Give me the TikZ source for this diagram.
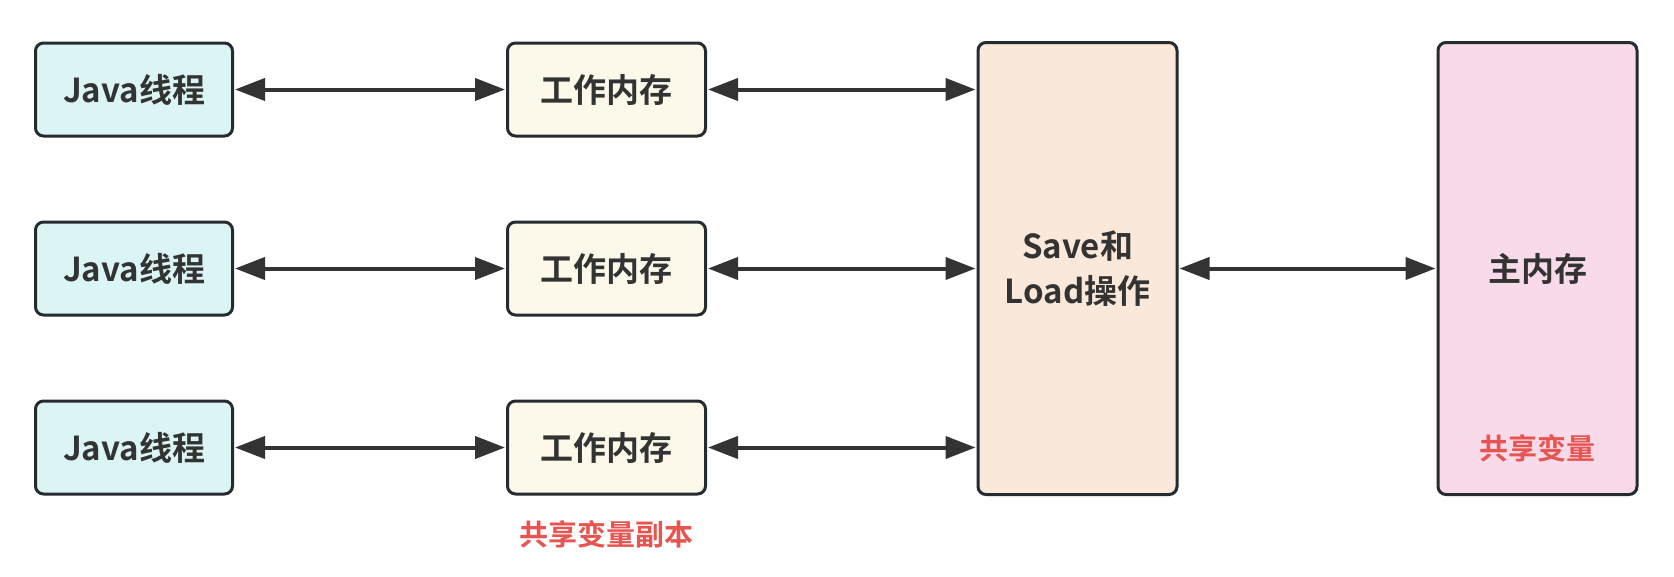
\documentclass[tikz,border=0pt]{standalone}
\usepackage{fontspec}
\setmainfont{Noto Sans CJK SC}[BoldFont={* Bold}]
\usetikzlibrary{arrows.meta}
\definecolor{bordc}{HTML}{262B30}
\definecolor{txtc}{HTML}{333333}
\definecolor{redc}{HTML}{E85450}
\definecolor{javafill}{HTML}{DBF4F4}
\definecolor{workfill}{HTML}{FCF8EA}
\definecolor{savefill}{HTML}{FAE8DA}
\definecolor{mainfill}{HTML}{F8DAEA}
\tikzset{
  box/.style={draw=bordc, line width=3pt, rounded corners=8pt, inner sep=0pt, text=txtc,
    font=\fontsize{33}{45}\selectfont\bfseries, align=center},
  javabox/.style={box, fill=javafill, minimum width=197pt, minimum height=93pt},
  workbox/.style={box, fill=workfill, minimum width=198pt, minimum height=93pt},
  bigbox/.style={box, minimum width=199pt, minimum height=452pt},
  link/.style={draw=txtc, line width=4pt, {Triangle[length=30pt,width=22pt]}-{Triangle[length=30pt,width=22pt]}, shorten <=1pt, shorten >=1pt},
  redlbl/.style={text=redc, font=\fontsize{29}{34}\selectfont\bfseries, inner sep=0pt}
}
\begin{document}
\begin{tikzpicture}[x=1pt,y=-1pt]
\useasboundingbox (0,0) rectangle (1674,576);
\node[javabox] (j1) at (134,89.5) {Java线程};
\node[javabox] (j2) at (134,268.5) {Java线程};
\node[javabox] (j3) at (134,447.5) {Java线程};
\node[workbox] (w1) at (606.5,89.5) {工作内存};
\node[workbox] (w2) at (606.5,268.5) {工作内存};
\node[workbox] (w3) at (606.5,447.5) {工作内存};
\node[bigbox, fill=savefill] (s) at (1077.5,268.5) {Save和\\Load操作};
\node[bigbox, fill=mainfill] (m) at (1537.5,268.5) {主内存};
\node[redlbl] (r1) at (606.5,534) {共享变量副本};
\node[redlbl] (r2) at (1537.5,448) {共享变量};
\draw[link] (j1.east) -- (w1.west);
\draw[link] (j2.east) -- (w2.west);
\draw[link] (j3.east) -- (w3.west);
\draw[link] (w1.east) -- (s.west |- w1.east);
\draw[link] (w2.east) -- (s.west |- w2.east);
\draw[link] (w3.east) -- (s.west |- w3.east);
\draw[link] (s.east) -- (m.west);
\end{tikzpicture}
\end{document}
